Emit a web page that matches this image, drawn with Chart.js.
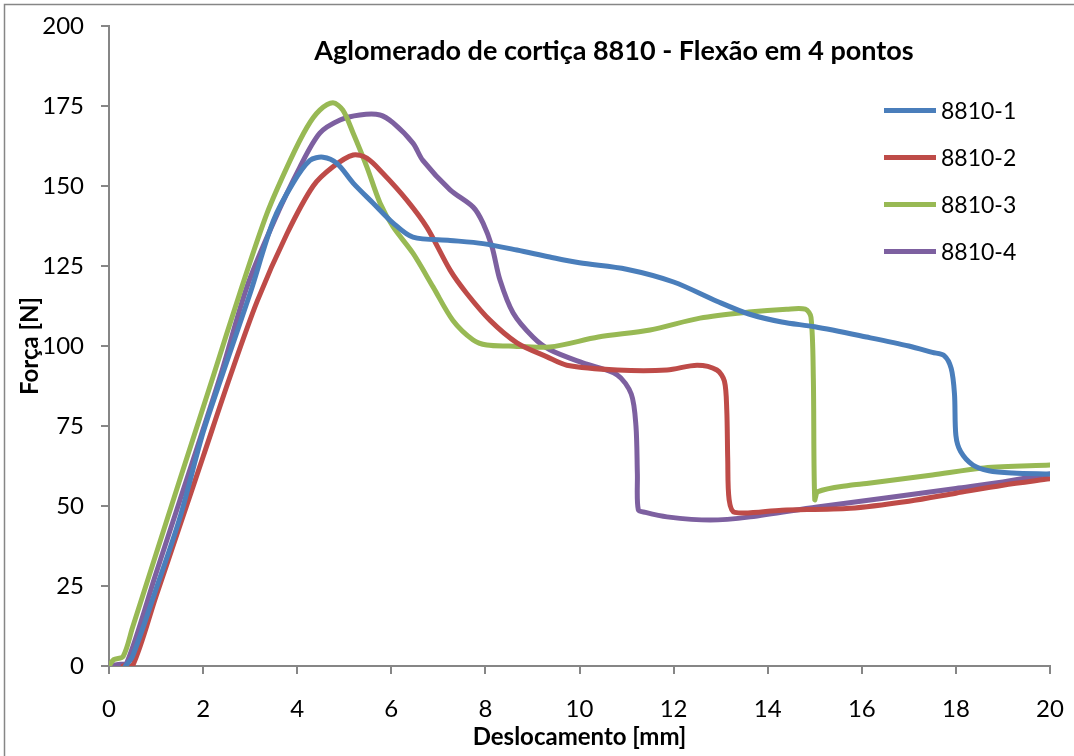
<!DOCTYPE html>
<html>
<head>
<meta charset="utf-8">
<script src="https://cdn.jsdelivr.net/npm/chart.js@4.4.1/dist/chart.umd.min.js"></script>
<style>
  body { margin: 0; background: #fff; }
  #wrap { width: 1074px; height: 756px; }
</style>
</head>
<body>
<div id="wrap"><canvas id="lineChart" width="1074" height="756"></canvas></div>
<script>
const chartTitle = 'Aglomerado de cortiça 8810 - Flexão em 4 pontos';
const seriesNames = ['8810-1', '8810-2', '8810-3', '8810-4'];
const seriesColors = ['#4A7EBB', '#BE4B48', '#98B954', '#7D60A0'];
const xTicks = [0, 2, 4, 6, 8, 10, 12, 14, 16, 18, 20];
const yTicks = [0, 25, 50, 75, 100, 125, 150, 175, 200];

// deslocamento [mm] / força [N]
const disp1 = [0.35, 0.5, 1.0, 1.5, 2.0, 2.42, 3.0, 3.49, 3.91, 4.27, 4.55, 4.85, 5.19, 5.61, 6.04, 6.46, 7.25, 7.95, 8.67, 9.37, 10, 11, 12, 12.92, 13.6, 14.3, 15.0, 16.1, 17.0, 17.5, 17.75, 17.9, 17.97, 18.0, 18.1, 18.36, 18.7, 19.2, 20];
const force1 = [0, 3, 24, 46, 73, 91.5, 116.5, 139, 150.9, 158, 159, 157, 150.9, 144.7, 138.4, 134, 133, 132, 130, 127.8, 126, 124, 120, 114, 110, 107.5, 106, 102.8, 100, 98, 97, 93, 85, 72, 67, 62.8, 61, 60.3, 60];

const disp2 = [0.3, 0.5, 1.0, 1.5, 2.0, 2.57, 3.15, 3.78, 4.34, 4.76, 5.19, 5.48, 5.82, 6.33, 6.76, 7.25, 7.6, 8.1, 8.67, 9.31, 9.73, 10.8, 11.86, 12.5, 12.92, 13.08, 13.13, 13.15, 13.18, 13.3, 14.3, 15.75, 17, 18, 19, 20];
const force2 = [0, 0, 21.8, 43.6, 65.4, 90.3, 114, 135, 150, 156, 159.7, 158.7, 154, 145.6, 137, 123.7, 116.5, 108, 101, 96.6, 94, 92.5, 92.5, 94, 92.5, 89, 80, 65, 52, 48, 48.7, 49.3, 51.5, 54, 56.5, 58.5];

const disp3 = [0, 0.1, 0.3, 0.5, 1.0, 1.5, 2.21, 2.78, 3.36, 3.85, 4.21, 4.48, 4.76, 4.97, 5.19, 5.48, 5.76, 6.04, 6.46, 6.89, 7.31, 7.74, 8.03, 8.5, 9.37, 10.4, 11.5, 12.56, 13.6, 14.4, 14.8, 14.92, 14.97, 15.0, 15.07, 15.75, 16.1, 17.5, 18.6, 20];
const force3 = [0, 2, 3, 12, 35, 58, 90.3, 116.5, 141.5, 158, 168.4, 173.7, 176, 173.7, 166.5, 156, 144.7, 137.2, 129, 118.4, 108, 101.9, 100.3, 100, 99.7, 102.8, 105, 108.7, 110.6, 111.5, 111.5, 109, 90, 52, 54.5, 56.5, 57, 59.7, 61.9, 62.8];

const disp4 = [0, 0.2, 0.38, 1.0, 1.5, 2.36, 2.93, 3.49, 4.06, 4.48, 4.91, 5.33, 5.76, 6.04, 6.46, 6.67, 7.25, 7.74, 7.95, 8.14, 8.31, 8.59, 9.01, 9.37, 10.07, 10.8, 11.1, 11.2, 11.23, 11.25, 11.4, 11.86, 12.78, 13.63, 15.05, 16.5, 18, 19, 20];
const force4 = [0, 0.5, 1, 29, 51.5, 90.3, 118.4, 138.4, 156, 166.5, 170.6, 172.2, 172.2, 169.7, 163.4, 158, 148.8, 143.4, 138.4, 131, 120.6, 110.3, 102.8, 98.8, 94.7, 91, 85, 75, 60, 48.8, 48, 46.6, 45.6, 46.6, 49.7, 52.5, 55.5, 57.5, 60];

const allDisp = [disp1, disp2, disp3, disp4];
const allForce = [force1, force2, force3, force4];

const FONT = 'Lato, "Open Sans", sans-serif';
const AXIS = '#868686';

const datasets = seriesNames.map((name, i) => ({
    label: name,
    data: allDisp[i].map((x, k) => ({ x: x, y: allForce[i][k] })),
    borderColor: seriesColors[i],
    backgroundColor: seriesColors[i],
    borderWidth: 5,
    pointRadius: 0,
    showLine: true,
    tension: 0.3,
    borderCapStyle: 'round',
    borderJoinStyle: 'round'
}));

const extras = {
    id: 'extras',
    beforeDraw(chart) {
        const ctx = chart.ctx;
        ctx.save();
        ctx.strokeStyle = AXIS;
        ctx.lineWidth = 1.5;
        ctx.strokeRect(4.5, 4.5, 1100, 800);
        ctx.restore();
    },
    afterDatasetsDraw(chart) {
        const ctx = chart.ctx;
        ctx.save();
        ctx.fillStyle = '#000';
        ctx.font = 'bold 27px ' + FONT;
        ctx.textAlign = 'center';
        ctx.textBaseline = 'middle';
        ctx.fillText(chartTitle, 614, 51);

        ctx.font = '23px ' + FONT;
        ctx.textAlign = 'left';
        chart.data.datasets.forEach((ds, i) => {
            const y = 110.5 + i * 47;
            ctx.strokeStyle = ds.borderColor;
            ctx.lineWidth = 5;
            ctx.beginPath();
            ctx.moveTo(884, y);
            ctx.lineTo(936, y);
            ctx.stroke();
            ctx.fillStyle = '#000';
            ctx.fillText(ds.label, 941, y + 1);
        });
        ctx.restore();
    }
};

new Chart(document.getElementById('lineChart').getContext('2d'), {
    type: 'scatter',
    data: { datasets: datasets },
    options: {
        responsive: false,
        animation: false,
        layout: { padding: { left: 0, top: 26, right: 24, bottom: 0 } },
        plugins: {
            legend: { display: false },
            tooltip: { enabled: false }
        },
        scales: {
            x: {
                type: 'linear',
                min: 0,
                max: 20,
                afterFit(scale) {
                    scale.height = 90;
                    scale.paddingLeft = 0;
                    scale.paddingRight = 0;
                },
                afterBuildTicks(scale) { scale.ticks = xTicks.map(v => ({ value: v })); },
                ticks: { color: '#000', font: { family: FONT, size: 24 }, padding: 21, maxRotation: 0 },
                grid: { drawOnChartArea: false, drawTicks: true, tickLength: 8, color: AXIS, lineWidth: 2 },
                border: { color: AXIS, width: 2 },
                title: { display: true, text: 'Deslocamento [mm]', color: '#000', font: { family: FONT, size: 24, weight: 'bold' }, padding: { bottom: 4 } }
            },
            y: {
                type: 'linear',
                min: 0,
                max: 200,
                afterFit(scale) {
                    scale.width = 109;
                    scale.paddingTop = 0;
                    scale.paddingBottom = 0;
                },
                afterBuildTicks(scale) { scale.ticks = yTicks.map(v => ({ value: v })); },
                ticks: { color: '#000', font: { family: FONT, size: 24 }, padding: 17 },
                grid: { drawOnChartArea: false, drawTicks: true, tickLength: 8, color: AXIS, lineWidth: 2 },
                border: { color: AXIS, width: 2 },
                title: { display: true, text: 'Força [N]', color: '#000', font: { family: FONT, size: 24, weight: 'bold' }, padding: { top: 16 } }
            }
        }
    },
    plugins: [extras]
});
</script>
</body>
</html>
